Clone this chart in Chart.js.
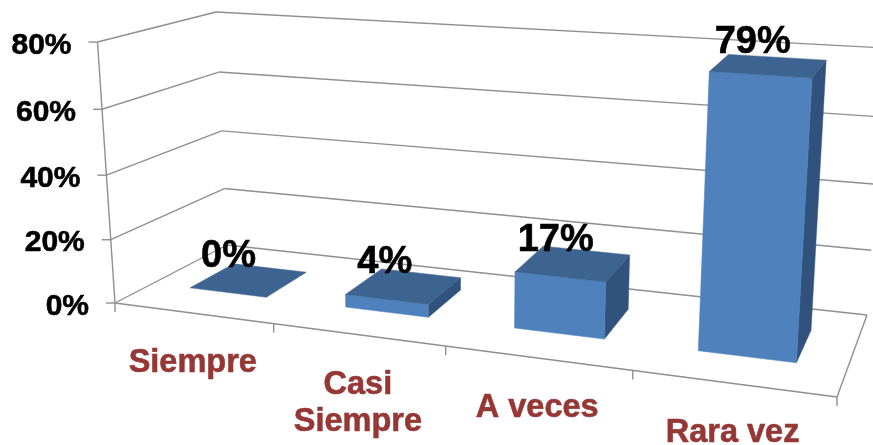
<!DOCTYPE html>
<html>
<head>
<meta charset="utf-8">
<style>html,body{margin:0;padding:0;background:#fff}canvas{display:block}</style>
<script src="https://cdn.jsdelivr.net/npm/chart.js@4"></script>
</head>
<body>
<canvas id="c" width="873" height="445"></canvas>
<script>
const categories = [["Siempre"], ["Casi", "Siempre"], ["A veces"], ["Rara vez"]];
const values = [0, 4, 17, 79];
const valueTicks = [0, 20, 40, 60, 80];

// 3D box of the chart room on screen: [u][depth][height]
const room = {
  f0: [115, 303], f1: [837, 397], b0: [227, 245], b1: [867, 315],
  tf0: [97.5, 42], tf1: [856, 93], tb0: [216, 12], tb1: [884, 48]
};
const perspective = 0.845;
const heightPerspective = 0.96;
const barDepth = [0.34, 0.745];
const FONT = '"Liberation Sans", Arial, sans-serif';
const GRID = '#8f8f8f';
let plotArea = null;

const lerp = (a, b, t) => [a[0] + (b[0] - a[0]) * t, a[1] + (b[1] - a[1]) * t];
const warp = (t, k) => t * k / (1 + t * (k - 1));
function project(u, d, v) {
  const s = warp(u, perspective);
  const bottom = lerp(lerp(room.f0, room.f1, s), lerp(room.b0, room.b1, s), d);
  const top = lerp(lerp(room.tf0, room.tf1, s), lerp(room.tb0, room.tb1, s), d);
  return lerp(bottom, top, warp(v, heightPerspective));
}
function line(ctx, a, b) {
  ctx.beginPath(); ctx.moveTo(a[0], a[1]); ctx.lineTo(b[0], b[1]); ctx.stroke();
}
function face(ctx, pts, color) {
  ctx.beginPath();
  pts.forEach((p, i) => i ? ctx.lineTo(p[0], p[1]) : ctx.moveTo(p[0], p[1]));
  ctx.closePath();
  ctx.fillStyle = color; ctx.fill();
  ctx.strokeStyle = color; ctx.lineWidth = 0.5; ctx.stroke();
}
function boldText(ctx, txt, x, y) {
  ctx.fillText(txt, x, y);
  ctx.strokeText(txt, x, y);
}

// Bars keep the library's own geometry (x, width, y, base) and are drawn as projected boxes.
Chart.BarElement.prototype.draw = function (ctx) {
  const area = plotArea;
  const u0 = (this.x - this.width / 2 - area.left) / area.width;
  const u1 = (this.x + this.width / 2 - area.left) / area.width;
  const v = (area.bottom - this.y) / area.height;
  const [d0, d1] = barDepth;
  ctx.save();
  if (v > 0) {
    face(ctx, [project(u1, d0, 0), project(u1, d1, 0), project(u1, d1, v), project(u1, d0, v)], '#30527c');
    face(ctx, [project(u0, d0, 0), project(u1, d0, 0), project(u1, d0, v), project(u0, d0, v)], '#4f81bd');
  }
  face(ctx, [project(u0, d0, v), project(u1, d0, v), project(u1, d1, v), project(u0, d1, v)], '#3d6491');
  ctx.restore();
};

const room3d = {
  id: 'room3d',
  beforeDatasetsDraw(chart) {
    const { ctx, scales: { x, y }, chartArea: area } = chart;
    plotArea = area;
    const frac = px => (area.bottom - px) / area.height;
    ctx.save();
    ctx.strokeStyle = GRID; ctx.lineWidth = 1.4;
    // Walls: gridlines from the value scale
    y.ticks.forEach((tick, i) => {
      const v = frac(y.getPixelForTick(i));
      const p = project(0, 0, v), q = project(0, 1, v), r = project(1, 1, v);
      line(ctx, [p[0] - 9, p[1]], p);
      line(ctx, p, q);
      line(ctx, q, r);
    });
    line(ctx, project(0, 0, 0), project(0, 0, 1));
    // Floor
    line(ctx, project(0, 0, 0), project(1, 0, 0));
    line(ctx, project(1, 0, 0), project(1, 1, 0));
    // Category ticks
    const n = x.ticks.length;
    for (let i = 0; i <= n; i++) {
      const p = project(i / n, 0, 0);
      line(ctx, p, [p[0], p[1] + 9]);
    }
    // Value labels
    ctx.fillStyle = '#000'; ctx.strokeStyle = '#000'; ctx.lineWidth = 0.6;
    ctx.font = 'bold 30px ' + FONT;
    ctx.textAlign = 'right'; ctx.textBaseline = 'alphabetic';
    y.ticks.forEach((tick, i) => {
      const p = project(0, 0, frac(y.getPixelForTick(i)));
      boldText(ctx, tick.label, p[0] - 26, p[1] + 11.5);
    });
    // Category labels
    ctx.fillStyle = '#953735'; ctx.strokeStyle = '#953735';
    ctx.font = 'bold 32.5px ' + FONT;
    ctx.textAlign = 'center';
    x.ticks.forEach((tick, i) => {
      const p = project((x.getPixelForTick(i) - area.left) / area.width, 0, 0);
      [].concat(tick.label).forEach((txt, k) => boldText(ctx, txt, p[0], p[1] + 59 + k * 37));
    });
    ctx.restore();
  },
  afterDatasetsDraw(chart) {
    const { ctx, chartArea: area } = chart;
    ctx.save();
    ctx.fillStyle = '#000'; ctx.strokeStyle = '#000'; ctx.lineWidth = 0.6;
    ctx.font = 'bold 38px ' + FONT;
    ctx.textAlign = 'center'; ctx.textBaseline = 'alphabetic';
    chart.getDatasetMeta(0).data.forEach((bar, i) => {
      const u = (bar.x - area.left) / area.width;
      const v = (area.bottom - bar.y) / area.height;
      const p = project(u, (barDepth[0] + barDepth[1]) / 2, v);
      boldText(ctx, chart.data.datasets[0].data[i] + '%', p[0] - 21 + 6 * u, p[1] - 13);
    });
    ctx.restore();
  }
};

new Chart(document.getElementById('c'), {
  type: 'bar',
  data: {
    labels: categories,
    datasets: [{ data: values, backgroundColor: '#4f81bd', barPercentage: 0.5, categoryPercentage: 1, clip: false }]
  },
  options: {
    responsive: false,
    animation: false,
    layout: { padding: { left: 115, right: 36, top: 42, bottom: 142 } },
    plugins: { legend: { display: false }, tooltip: { enabled: false } },
    scales: {
      x: { display: false, offset: true },
      y: {
        display: false,
        min: valueTicks[0],
        max: valueTicks[valueTicks.length - 1],
        ticks: { stepSize: valueTicks[1] - valueTicks[0], callback: v => v + '%' }
      }
    }
  },
  plugins: [room3d]
});
</script>
</body>
</html>
